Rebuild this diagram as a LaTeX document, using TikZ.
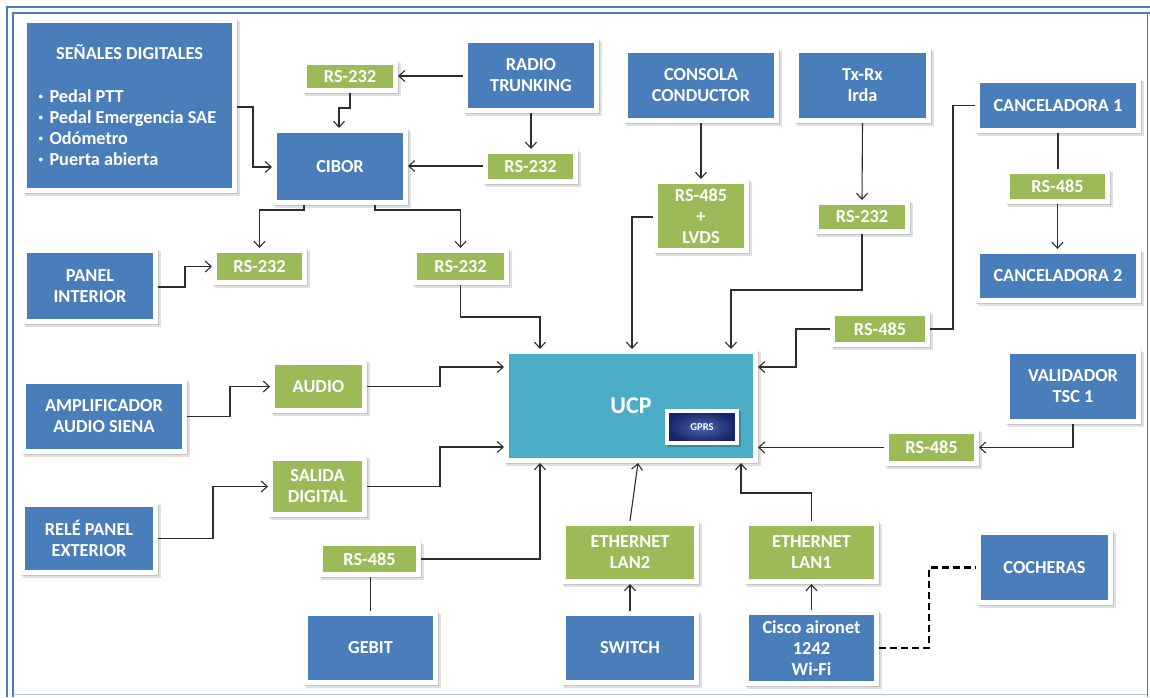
\documentclass[tikz,border=0pt]{standalone}
\usepackage{fontspec}
\setmainfont{Carlito}
\usetikzlibrary{arrows.meta,shadows}
\definecolor{bbox}{RGB}{74,126,187}
\definecolor{gbox}{RGB}{155,187,89}
\definecolor{ucpc}{RGB}{75,172,198}
\definecolor{framec}{RGB}{74,126,187}
\definecolor{linec}{RGB}{45,45,45}
\definecolor{gprsin}{RGB}{75,100,178}
\definecolor{gprsout}{RGB}{25,35,100}
\newcommand\bx[7]{\node[#6, minimum width={#4-#2+5}, minimum height={#5-#3+5}] (#1) at ({(#2+#4)/2},{(#3+#5)/2}) {#7};}
\newcommand\mybul{\makebox[11pt][l]{\fontsize{9}{9}\selectfont\raisebox{3pt}{•}}}
\tikzset{
  base/.style={draw=white, line width=5pt, inner sep=0pt, text=white, align=center,
    font=\bfseries\fontsize{18.3}{21}\selectfont,
    drop shadow={shadow xshift=1.2pt, shadow yshift=-1.2pt, opacity=0.12, fill=black, draw=black, line width=5pt},
    drop shadow={shadow xshift=2.8pt, shadow yshift=-2.8pt, opacity=0.12, fill=black, draw=black, line width=5pt}},
  bluebox/.style={base, fill=bbox},
  greenbox/.style={base, fill=gbox},
  ucpbox/.style={base, fill=ucpc, font=\bfseries\fontsize{24}{26}\selectfont},
  gprsbox/.style={draw=white, line width=4pt, inner sep=0pt, text=white, shade, inner color=gprsin, outer color=gprsout,
    font=\bfseries\fontsize{10.5}{12}\selectfont, minimum width=70pt, minimum height=32pt,
    drop shadow={shadow xshift=1.5pt, shadow yshift=-1.5pt, opacity=0.2, fill=black, draw=black, line width=4pt}},
  conn/.style={draw=linec, line width=1.1pt},
  arr/.style={conn, -{Straight Barb[length=6pt,width=11pt]}},
  wifi/.style={draw=black, line width=2.6pt, dash pattern=on 7pt off 4pt}
}
\begin{document}
\begin{tikzpicture}[x=1pt,y=-1pt]
\useasboundingbox (0,0) rectangle (1150,697);
\fill[white] (0,0) rectangle (1150,697);
\draw[framec, line width=2pt] (7,697) -- (7,7) -- (1150,7);
\draw[framec, line width=1.6pt] (13,697) -- (13,13) -- (1150,13);
\draw[framec, line width=1.4pt] (1147.5,13) -- (1147.5,697);
\draw[framec!45, line width=1.2pt] (13,694.5) -- (1147,694.5);

% blue boxes
\bx{sen}{27}{23}{232}{188}{bluebox, align=left}{\makebox[182pt]{SEÑALES DIGITALES}\\[22pt]\mybul Pedal PTT\\\mybul Pedal Emergencia SAE\\\mybul Odómetro\\\mybul Puerta abierta}
\bx{cibor}{277}{133}{403}{200}{bluebox}{CIBOR}
\bx{radio}{468}{43}{594}{108}{bluebox}{RADIO\\TRUNKING}
\bx{consola}{628}{53}{774}{118}{bluebox}{CONSOLA\\CONDUCTOR}
\bx{txrx}{799}{53}{926}{118}{bluebox}{Tx-Rx\\Irda}
\bx{canc1}{980}{83}{1136}{128}{bluebox}{CANCELADORA 1}
\bx{canc2}{980}{254}{1136}{298}{bluebox}{CANCELADORA 2}
\bx{panel}{27}{253}{153}{319}{bluebox}{PANEL\\INTERIOR}
\bx{amp}{26}{384}{182}{449}{bluebox}{AMPLIFICADOR\\AUDIO SIENA}
\bx{rele}{25}{507}{153}{570}{bluebox}{RELÉ PANEL\\EXTERIOR}
\bx{valid}{1010}{354}{1136}{419}{bluebox}{VALIDADOR\\TSC 1}
\bx{gebit}{308}{616}{433}{680}{bluebox}{GEBIT}
\bx{switch}{566}{616}{694}{680}{bluebox}{SWITCH}
\bx{cisco}{749}{615}{874}{681}{bluebox}{Cisco aironet\\1242\\Wi-Fi}
\bx{coch}{981}{535}{1108}{600}{bluebox}{COCHERAS}

% green boxes
\bx{rsa}{307}{65}{393}{88}{greenbox}{RS-232}
\bx{rsb}{488}{154}{573}{179}{greenbox}{RS-232}
\bx{rslv}{658}{184}{744}{248}{greenbox}{RS-485\\+\\LVDS}
\bx{rse}{819}{205}{905}{229}{greenbox}{RS-232}
\bx{rsg}{1010}{174}{1105}{199}{greenbox}{RS-485}
\bx{rsc}{217}{253}{302}{280}{greenbox}{RS-232}
\bx{rsd}{417}{253}{504}{280}{greenbox}{RS-232}
\bx{rsf}{835}{316}{925}{342}{greenbox}{RS-485}
\bx{audio}{275}{365}{362}{408}{greenbox}{AUDIO}
\bx{rsh}{889}{434}{974}{461}{greenbox}{RS-485}
\bx{sal}{273}{461}{362}{512}{greenbox}{SALIDA\\DIGITAL}
\bx{rsi}{323}{546}{416}{572}{greenbox}{RS-485}
\bx{lan2}{566}{526}{694}{579}{greenbox}{ETHERNET\\LAN2}
\bx{lan1}{749}{526}{874}{579}{greenbox}{ETHERNET\\LAN1}

% UCP
\bx{ucp}{509}{354}{753}{458}{ucpbox}{UCP}
\node[gprsbox] (gprs) at (702,427) {GPRS};

% connectors
\draw[arr] (sen.east |- 0,107) -| (253,167) -- (cibor.west |- 0,167);
\draw[arr] (radio.west |- 0,76) -- (rsa.east |- 0,76);
\draw[arr] (rsa.south -| 350,0) |- (339,108) -- (cibor.north -| 339,0);
\draw[arr] (radio.south -| 531,0) -- (rsb.north -| 531,0);
\draw[arr] (rsb.west |- 0,166) -- (cibor.east |- 0,166);
\draw[arr] (cibor.south -| 304,0) -- (304,210) -| (rsc.north);
\draw[arr] (cibor.south -| 375,0) -- (375,210) -| (rsd.north);
\draw[arr] (panel.east |- 0,287) -| (185,266.5) -- (rsc.west);
\draw[arr] (rsd.south) |- (540,317) -- (ucp.north -| 540,0);
\draw[arr] (rslv.west |- 0,217) -| (ucp.north -| 632,0);
\draw[arr] (rse.south) |- (731,290) -- (ucp.north -| 731,0);
\draw[arr] (consola.south) -- (rslv.north);
\draw[arr] (txrx.south) -- (rse.north);
\draw[conn] (canc1.west) -- (953,105.5) |- (rsf.east);
\draw[arr] (rsf.west) -| (796,367) -- (ucp.east |- 0,367);
\draw[conn] (canc1.south) -- (canc1.south |- rsg.north);
\draw[arr] (rsg.south) -- (rsg.south |- canc2.north);
\draw[arr] (valid.south) |- (rsh.east);
\draw[arr] (rsh.west) -- (ucp.east |- rsh.west);
\draw[arr] (audio.east) -| (440,367) -- (ucp.west |- 0,367);
\draw[arr] (amp.east) -| (230,386.5) -- (audio.west);
\draw[arr] (sal.east) -| (440,447) -- (ucp.west |- 0,447);
\draw[arr] (rele.east) -| (213,486.5) -- (sal.west);
\draw[conn] (gebit.north) -- (gebit.north |- rsi.south);
\draw[arr] (rsi.east) -| (ucp.south -| 540,0);
\draw[arr] (lan2.north) -- (ucp.south -| 638,0);
\draw[arr] (switch.north) -- (lan2.south);
\draw[arr] (lan1.north) |- (741,493) -- (ucp.south -| 741,0);
\draw[arr] (cisco.north) -- (lan1.south);
\draw[wifi] (cisco.east) -| (929,567.5) -- (coch.west);
\end{tikzpicture}
\end{document}
